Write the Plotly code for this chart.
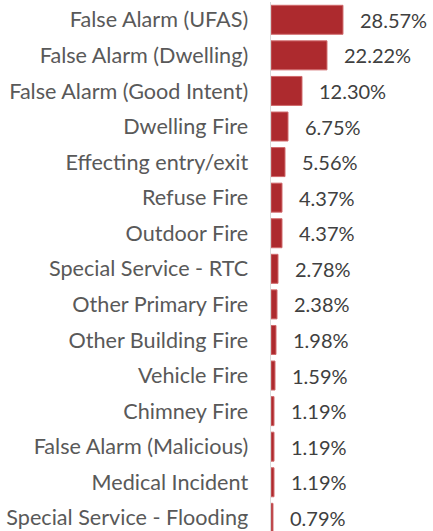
import plotly.graph_objects as go

categories = [
    "False Alarm (UFAS)",
    "False Alarm (Dwelling)",
    "False Alarm (Good Intent)",
    "Dwelling Fire",
    "Effecting entry/exit",
    "Refuse Fire",
    "Outdoor Fire",
    "Special Service - RTC",
    "Other Primary Fire",
    "Other Building Fire",
    "Vehicle Fire",
    "Chimney Fire",
    "False Alarm (Malicious)",
    "Medical Incident",
    "Special Service - Flooding",
]
values = [28.57, 22.22, 12.30, 6.75, 5.56, 4.37, 4.37, 2.78, 2.38, 1.98, 1.59, 1.19, 1.19, 1.19, 0.79]
labels = [f"{v:.2f}%" for v in values]

FONT = "Lato"

fig = go.Figure()
fig.add_trace(go.Bar(
    x=values,
    y=categories,
    orientation="h",
    marker=dict(color="#AD2A2E", line=dict(color="#D06A6C", width=1)),
    hoverinfo="skip",
))

for v, c, t in zip(values, categories, labels):
    fig.add_annotation(
        x=v, y=c, text=t, showarrow=False, xanchor="left", yanchor="middle",
        xshift=15, font=dict(family=FONT, size=20, color="#404040"),
    )

fig.update_layout(
    width=433, height=531,
    margin=dict(l=271, r=0, t=2, b=0),
    paper_bgcolor="white", plot_bgcolor="white",
    bargap=0.185,
    showlegend=False,
    xaxis=dict(range=[0, 64.3], showgrid=False, zeroline=False, showticklabels=False,
               showline=False, fixedrange=True),
    yaxis=dict(type="category", categoryorder="array", categoryarray=categories,
               range=[14.37, -0.5], showgrid=False, zeroline=False,
               showline=True, linecolor="#D9D9D9", linewidth=1.5,
               ticks="", ticklabelstandoff=17,
               tickfont=dict(family=FONT, size=21.6, color="#595959"),
               automargin=False, fixedrange=True),
)

fig.write_html("out.html", config={"displayModeBar": False, "staticPlot": True},
               post_script="document.body.style.margin='0';document.body.style.overflow='hidden';")
